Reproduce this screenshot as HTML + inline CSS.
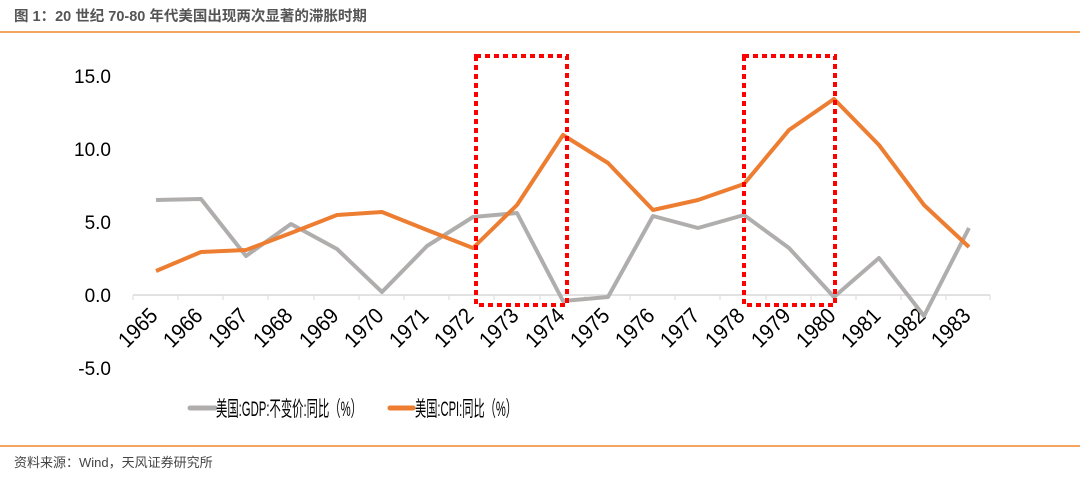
<!DOCTYPE html>
<html><head><meta charset="utf-8"><style>
body{margin:0;background:#fff;width:1080px;height:474px;overflow:hidden}
</style></head><body>
<svg width="1080" height="474" xmlns="http://www.w3.org/2000/svg" font-family="Liberation Sans, Noto Sans CJK SC, sans-serif">
<text x="14" y="21" font-size="14.5" font-weight="bold" fill="#555">图 1：20 世纪 70-80 年代美国出现两次显著的滞胀时期</text>
<line x1="0" y1="32" x2="1080" y2="32" stroke="#f0892b" stroke-width="1.5"/>
<g font-size="19" fill="#000" text-anchor="end">
<text x="111" y="83">15.0</text>
<text x="111" y="156">10.0</text>
<text x="111" y="229">5.0</text>
<text x="111" y="302">0.0</text>
<text x="111" y="375">-5.0</text>
</g>
<g font-size="22" fill="#000" text-anchor="end">
<text transform="translate(159,317) rotate(-45)" textLength="45" lengthAdjust="spacingAndGlyphs">1965</text>
<text transform="translate(204,317) rotate(-45)" textLength="45" lengthAdjust="spacingAndGlyphs">1966</text>
<text transform="translate(249,317) rotate(-45)" textLength="45" lengthAdjust="spacingAndGlyphs">1967</text>
<text transform="translate(294,317) rotate(-45)" textLength="45" lengthAdjust="spacingAndGlyphs">1968</text>
<text transform="translate(340,317) rotate(-45)" textLength="45" lengthAdjust="spacingAndGlyphs">1969</text>
<text transform="translate(385,317) rotate(-45)" textLength="45" lengthAdjust="spacingAndGlyphs">1970</text>
<text transform="translate(430,317) rotate(-45)" textLength="45" lengthAdjust="spacingAndGlyphs">1971</text>
<text transform="translate(475,317) rotate(-45)" textLength="45" lengthAdjust="spacingAndGlyphs">1972</text>
<text transform="translate(520,317) rotate(-45)" textLength="45" lengthAdjust="spacingAndGlyphs">1973</text>
<text transform="translate(566,317) rotate(-45)" textLength="45" lengthAdjust="spacingAndGlyphs">1974</text>
<text transform="translate(611,317) rotate(-45)" textLength="45" lengthAdjust="spacingAndGlyphs">1975</text>
<text transform="translate(656,317) rotate(-45)" textLength="45" lengthAdjust="spacingAndGlyphs">1976</text>
<text transform="translate(701,317) rotate(-45)" textLength="45" lengthAdjust="spacingAndGlyphs">1977</text>
<text transform="translate(746,317) rotate(-45)" textLength="45" lengthAdjust="spacingAndGlyphs">1978</text>
<text transform="translate(792,317) rotate(-45)" textLength="45" lengthAdjust="spacingAndGlyphs">1979</text>
<text transform="translate(837,317) rotate(-45)" textLength="45" lengthAdjust="spacingAndGlyphs">1980</text>
<text transform="translate(882,317) rotate(-45)" textLength="45" lengthAdjust="spacingAndGlyphs">1981</text>
<text transform="translate(927,317) rotate(-45)" textLength="45" lengthAdjust="spacingAndGlyphs">1982</text>
<text transform="translate(972,317) rotate(-45)" textLength="45" lengthAdjust="spacingAndGlyphs">1983</text>
</g>
<line x1="133" y1="295" x2="990" y2="295" stroke="#d9d9d9" stroke-width="1.5"/>
<g stroke="#d9d9d9" stroke-width="1">
<line x1="133" y1="295" x2="133" y2="300"/><line x1="178" y1="295" x2="178" y2="300"/><line x1="223" y1="295" x2="223" y2="300"/><line x1="268" y1="295" x2="268" y2="300"/><line x1="314" y1="295" x2="314" y2="300"/><line x1="359" y1="295" x2="359" y2="300"/><line x1="404" y1="295" x2="404" y2="300"/><line x1="449" y1="295" x2="449" y2="300"/><line x1="494" y1="295" x2="494" y2="300"/><line x1="540" y1="295" x2="540" y2="300"/><line x1="585" y1="295" x2="585" y2="300"/><line x1="630" y1="295" x2="630" y2="300"/><line x1="675" y1="295" x2="675" y2="300"/><line x1="720" y1="295" x2="720" y2="300"/><line x1="766" y1="295" x2="766" y2="300"/><line x1="811" y1="295" x2="811" y2="300"/><line x1="856" y1="295" x2="856" y2="300"/><line x1="901" y1="295" x2="901" y2="300"/><line x1="946" y1="295" x2="946" y2="300"/><line x1="990" y1="295" x2="990" y2="300"/>
</g>
<polyline fill="none" stroke="#b0adad" stroke-width="4" stroke-linejoin="round" points="156,200 201,199 246,256 291,224 337,249 382,292 427,246 473,217 517,213 563,301 608,297 653,216 698,228 744,215 789,248 834,297 879,258 924,316 969,228"/>
<polyline fill="none" stroke="#ed7d31" stroke-width="4" stroke-linejoin="round" points="156,271 201,252 246,250 291,233 337,215 382,212 427,230 473,248 517,205 563,135 608,163 653,210 698,200 744,184 789,130 834,99 879,145 924,205 969,247"/>
<g fill="none" stroke="#ff0000" stroke-width="4" stroke-dasharray="5,4">
<rect x="476" y="56" width="91" height="249"/>
<rect x="744" y="56" width="91" height="249"/>
</g>
<line x1="190" y1="408" x2="215" y2="408" stroke="#b0adad" stroke-width="5" stroke-linecap="round"/>
<text x="216" y="416" font-size="21" fill="#000" textLength="146" lengthAdjust="spacingAndGlyphs">美国:GDP:不变价:同比（%）</text>
<line x1="390" y1="408" x2="413" y2="408" stroke="#ed7d31" stroke-width="5" stroke-linecap="round"/>
<text x="415" y="416" font-size="21" fill="#000" textLength="102" lengthAdjust="spacingAndGlyphs">美国:CPI:同比（%）</text>
<line x1="0" y1="446" x2="1080" y2="446" stroke="#f0892b" stroke-width="1.5"/>
<text x="14" y="467" font-size="13" fill="#444">资料来源：Wind，天风证券研究所</text>
</svg>
</body></html>
